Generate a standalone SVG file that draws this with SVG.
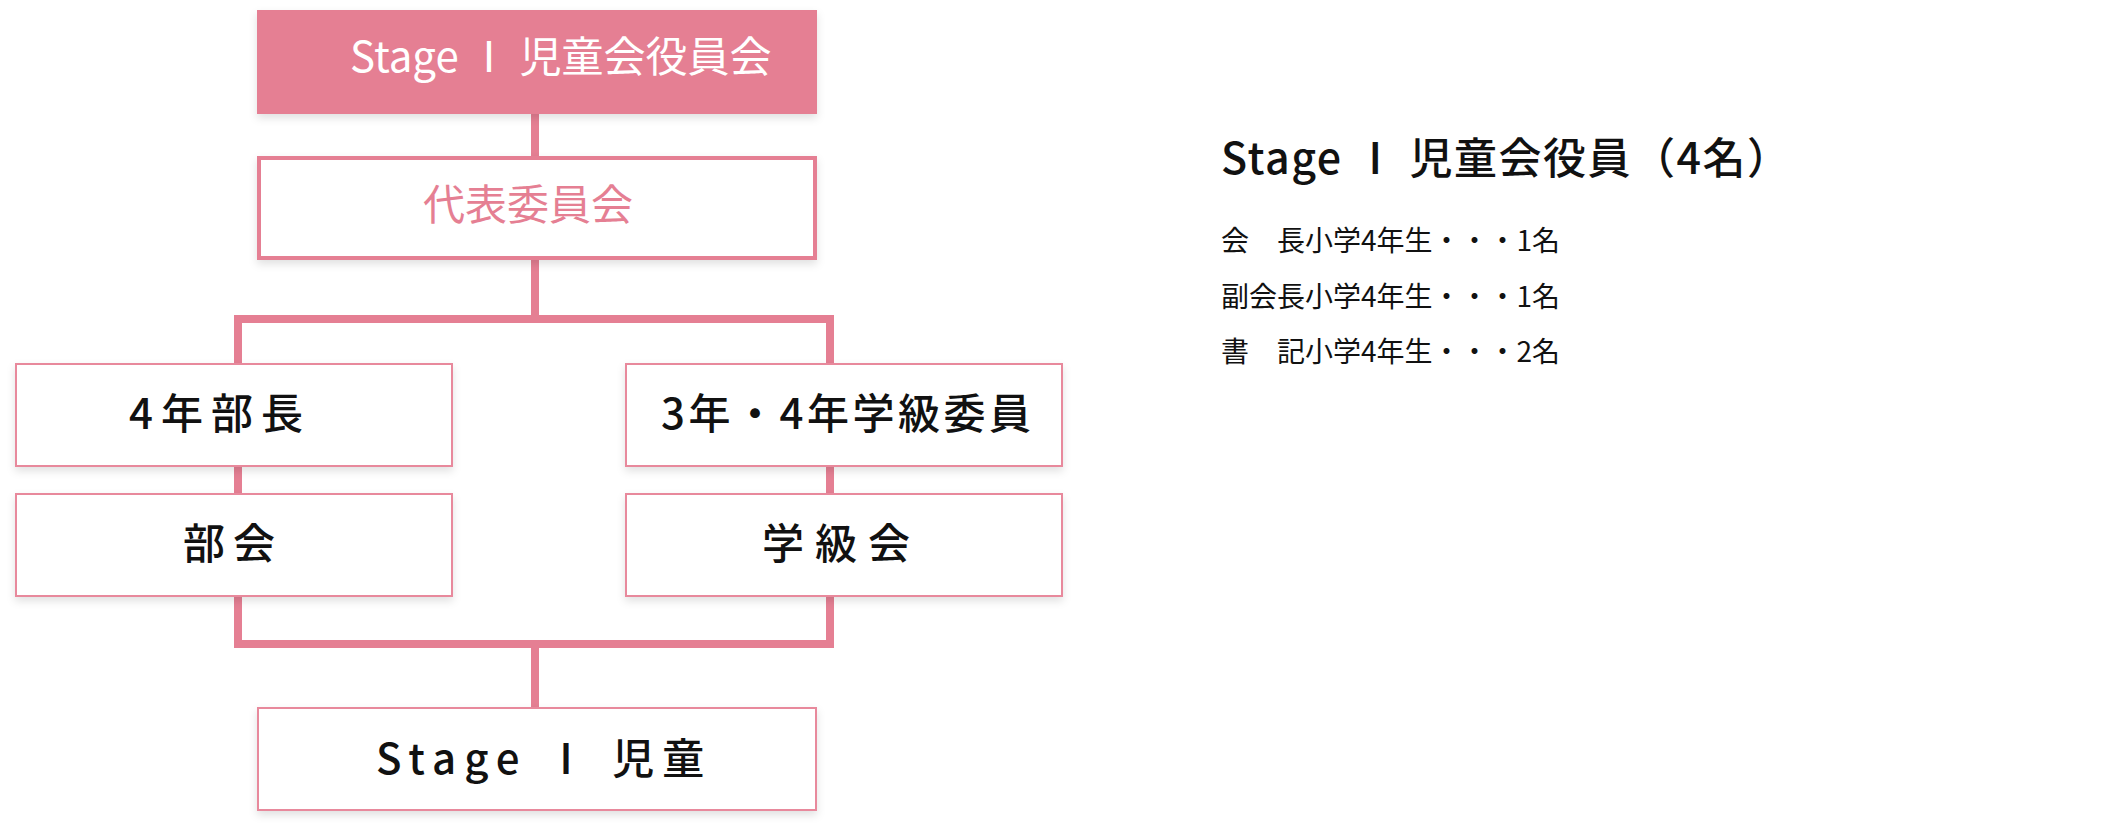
<svg xmlns="http://www.w3.org/2000/svg" width="2118" height="832" viewBox="0 0 2118 832">
  <defs>
    <filter id="sh" x="-5%" y="-10%" width="110%" height="130%">
      <feDropShadow dx="0" dy="4" stdDeviation="4" flood-color="#000" flood-opacity="0.12"/>
    </filter>
  </defs>
  <style>
    text { font-family: "Noto Sans CJK JP", "Noto Sans", sans-serif; }
    .box { fill: #ffffff; stroke: #e8899c; stroke-width: 2; filter: url(#sh); }
    .boxthick { fill: #ffffff; stroke: #e57f93; stroke-width: 4; filter: url(#sh); }
    .boxfill { fill: #e57f93; filter: url(#sh); }
    .conn { fill: none; stroke: #e57f93; stroke-width: 8; stroke-linejoin: miter; stroke-linecap: butt; }
    .big { font-size: 42px; }
    .lbl { font-size: 42px; font-weight: 500; fill: #111111; letter-spacing: 8px; }
    .head { font-size: 43px; font-weight: 500; fill: #111111; letter-spacing: 1.5px; }
    .item { font-size: 28px; fill: #111111; }
  </style>

  <g id="connectors">
    <path class="conn" d="M535,114 V156"/>
    <path class="conn" d="M535,260 V319"/>
    <path class="conn" d="M238,363 V319 H830 V363"/>
    <path class="conn" d="M238,467 V493"/>
    <path class="conn" d="M830,467 V493"/>
    <path class="conn" d="M238,597 V644 H830 V597"/>
    <path class="conn" d="M535,644 V707"/>
  </g>

  <g id="node-officers">
    <rect class="boxfill" x="257" y="10" width="560" height="104"/>
    <text class="big" x="350" y="72" fill="#ffffff">Stage Ⅰ 児童会役員会</text>
  </g>

  <g id="node-representative">
    <rect class="boxthick" x="259" y="158" width="556" height="100"/>
    <text class="big" x="423" y="220" fill="#e57f93">代表委員会</text>
  </g>

  <g id="node-club-leader">
    <rect class="box" x="16" y="364" width="436" height="102"/>
    <text class="lbl" x="129" y="429">4年部長</text>
  </g>

  <g id="node-class-rep">
    <rect class="box" x="626" y="364" width="436" height="102"/>
    <text class="lbl" x="661" y="429" style="letter-spacing:3.5px">3年・4年学級委員</text>
  </g>

  <g id="node-club">
    <rect class="box" x="16" y="494" width="436" height="102"/>
    <text class="lbl" x="183" y="559">部会</text>
  </g>

  <g id="node-class">
    <rect class="box" x="626" y="494" width="436" height="102"/>
    <text class="lbl" x="762" y="559" style="letter-spacing:11px">学級会</text>
  </g>

  <g id="node-children">
    <rect class="box" x="258" y="708" width="558" height="102"/>
    <text class="lbl" x="376" y="774">Stage Ⅰ 児童</text>
  </g>

  <g id="info">
    <text class="head" x="1221" y="174">Stage Ⅰ 児童会役員（4名）</text>
    <text class="item" x="1221" y="251">会　長小学4年生・・・1名</text>
    <text class="item" x="1221" y="307">副会長小学4年生・・・1名</text>
    <text class="item" x="1221" y="362">書　記小学4年生・・・2名</text>
  </g>
</svg>
